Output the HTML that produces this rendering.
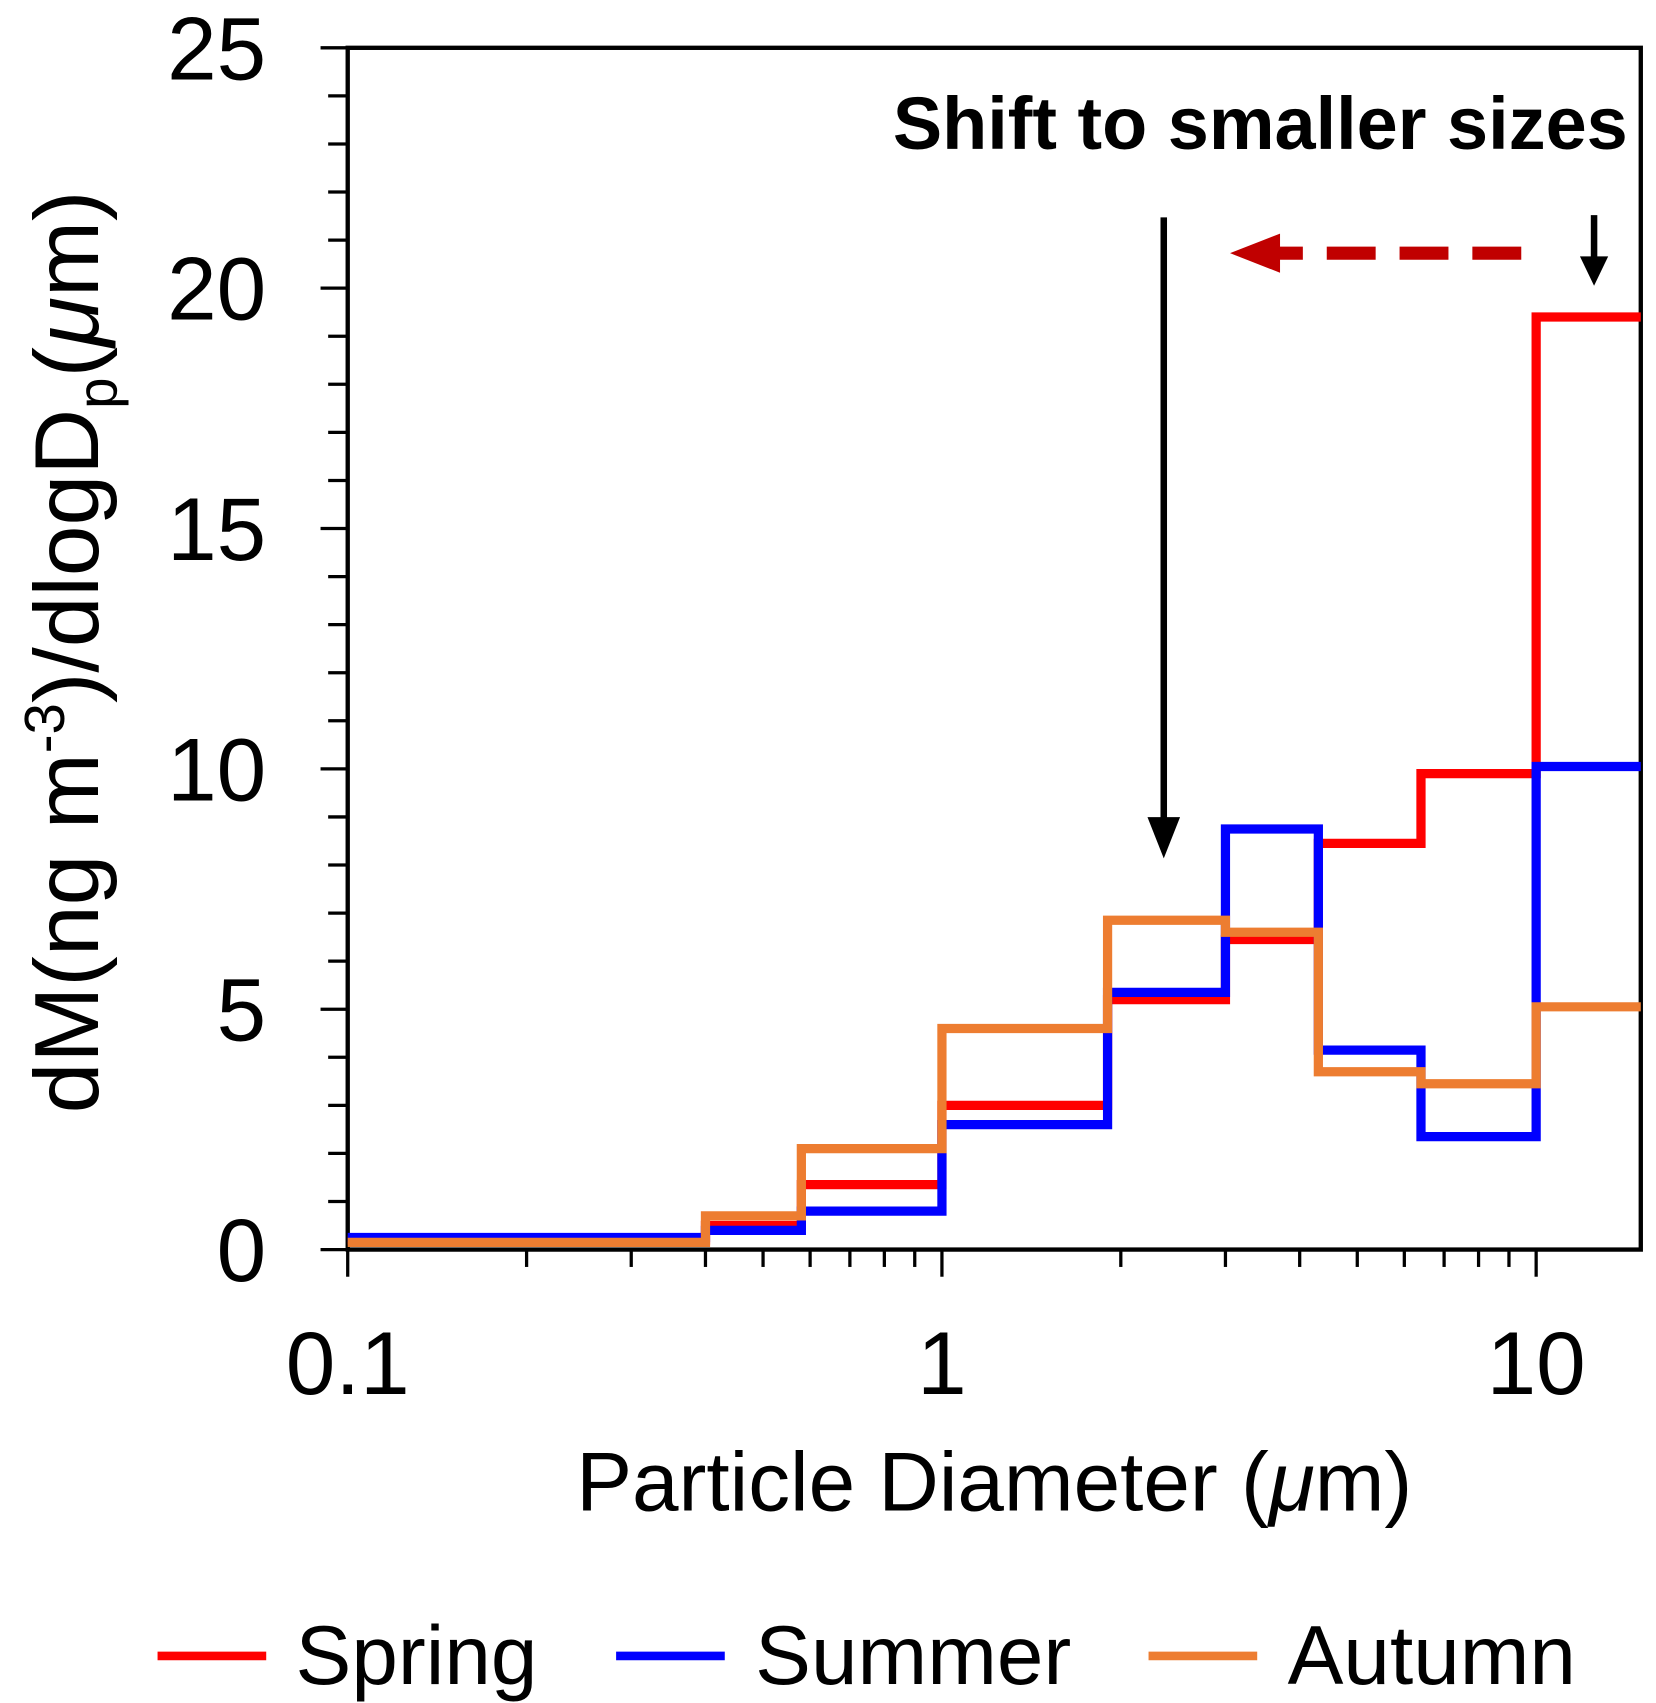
<!DOCTYPE html>
<html><head><meta charset="utf-8"><style>
html,body{margin:0;padding:0;background:#fff;}
svg{display:block;font-family:"Liberation Sans",Arial,sans-serif;}
</style></head><body>
<svg id="chart" width="1656" height="1703" viewBox="0 0 1524 1567.3" preserveAspectRatio="none" xmlns="http://www.w3.org/2000/svg">
<g id="axes"></g>
<g id="series"></g>
<g>
  <text x="1498" y="137" text-anchor="end" font-size="68" font-weight="bold">Shift to smaller sizes</text>
  <line x1="1071" y1="200" x2="1071" y2="755" stroke="#000" stroke-width="6"/>
  <polygon points="1056,752 1086,752 1071,790" fill="#000"/>
  <line x1="1400" y1="233" x2="1170" y2="233" stroke="#c00000" stroke-width="12" stroke-dasharray="45,22"/>
  <polygon points="1132,233 1178,215 1178,251" fill="#c00000"/>
  <line x1="1467" y1="198" x2="1467" y2="240" stroke="#000" stroke-width="6"/>
  <polygon points="1454,236 1480,236 1467,263" fill="#000"/>
</g>
<g>
  <line x1="145" y1="1524" x2="245" y2="1524" stroke="#ff0000" stroke-width="8"/>
  <text x="272" y="1550" font-size="77">Spring</text>
  <line x1="567" y1="1524" x2="667" y2="1524" stroke="#0000ff" stroke-width="8"/>
  <text x="695" y="1550" font-size="77">Summer</text>
  <line x1="1057" y1="1524" x2="1157" y2="1524" stroke="#ed7d31" stroke-width="8"/>
  <text x="1185" y="1550" font-size="77">Autumn</text>
</g>
</svg>
<script>
const binEdges = [0.1, 0.4, 0.58, 1.0, 1.9, 3.0, 4.3, 6.4, 10, 15];
const springValues = [0.2, 0.5, 1.35, 3.0, 5.2, 6.45, 8.45, 9.9, 19.4];
const summerValues = [0.25, 0.4, 0.8, 2.6, 5.35, 8.75, 4.15, 2.35, 10.05];
const autumnValues = [0.15, 0.7, 2.1, 4.6, 6.85, 6.6, 3.7, 3.45, 5.05];
const yTickLabels = [0, 5, 10, 15, 20, 25];
const xTickLabels = [0.1, 1, 10];

const L=320,R=1510,T=44,B=1150;
const xMin=0.1,xMax=15,yMin=0,yMax=25;
const NS="http://www.w3.org/2000/svg";
function xs(v){return L+(Math.log10(v)-Math.log10(xMin))/(Math.log10(xMax)-Math.log10(xMin))*(R-L);}
function ys(v){return B-(v-yMin)/(yMax-yMin)*(B-T);}
function mk(tag,attrs,parent){const e=document.createElementNS(NS,tag);for(const k in attrs)e.setAttribute(k,attrs[k]);parent.appendChild(e);return e;}
const axes=document.getElementById('axes');
const series=document.getElementById('series');

let e=mk('rect',{x:L,y:T,width:R-L,height:B-T,fill:'none',stroke:'#000','stroke-width':4},axes);



for(let v=0;v<=25;v++){
  const major=v%5===0;
  e=mk('line',{x1:major?295:302,x2:L,y1:ys(v),y2:ys(v),stroke:'#000','stroke-width':3},axes);
  
  
}
yTickLabels.forEach(v=>{
  e=mk('text',{x:245,y:ys(v)+29,'text-anchor':'end','font-size':82},axes);
  e.textContent=v;
  
  
});
for(let d=0.1;d<=10.1;d*=10){
  for(let m=1;m<=9;m++){
    const v=d*m; if(v>xMax+1e-9)break;
    const major=m===1;
    e=mk('line',{x1:xs(v),x2:xs(v),y1:B,y2:major?1175:1166,stroke:'#000','stroke-width':3},axes);
    
    
  }
}
xTickLabels.forEach(v=>{
  e=mk('text',{x:xs(v),y:1283,'text-anchor':'middle','font-size':82},axes);
  e.textContent=v;
  
  
});
e=mk('text',{x:915,y:1390,'text-anchor':'middle','font-size':77},axes);
e.innerHTML='Particle Diameter (<tspan font-style="italic">μ</tspan>m)';


e=mk('text',{x:0,y:0,'text-anchor':'middle','font-size':84,transform:'translate(90,600) rotate(-90)'},axes);
e.innerHTML='dM(ng m<tspan font-size="52" dy="-31">-3</tspan><tspan dy="31">)/dlogD</tspan><tspan font-size="52" dy="17">p</tspan><tspan dy="-17">(</tspan><tspan font-style="italic">μ</tspan><tspan>m)</tspan>';



function step(vals,color,name){
  let d='';
  for(let i=0;i<vals.length;i++){
    const x0=xs(binEdges[i]),x1=xs(binEdges[i+1]),y=ys(vals[i]);
    d+=(i===0?'M':'L')+x0+','+y+' L'+x1+','+y+' ';
  }
  const p=mk('path',{d:d,fill:'none',stroke:color,'stroke-width':8.5,'stroke-linejoin':'miter'},series);
  
  
}
step(springValues,'#ff0000','spring-line');
step(summerValues,'#0000ff','summer-line');
step(autumnValues,'#ed7d31','autumn-line');
</script>
</body></html>
